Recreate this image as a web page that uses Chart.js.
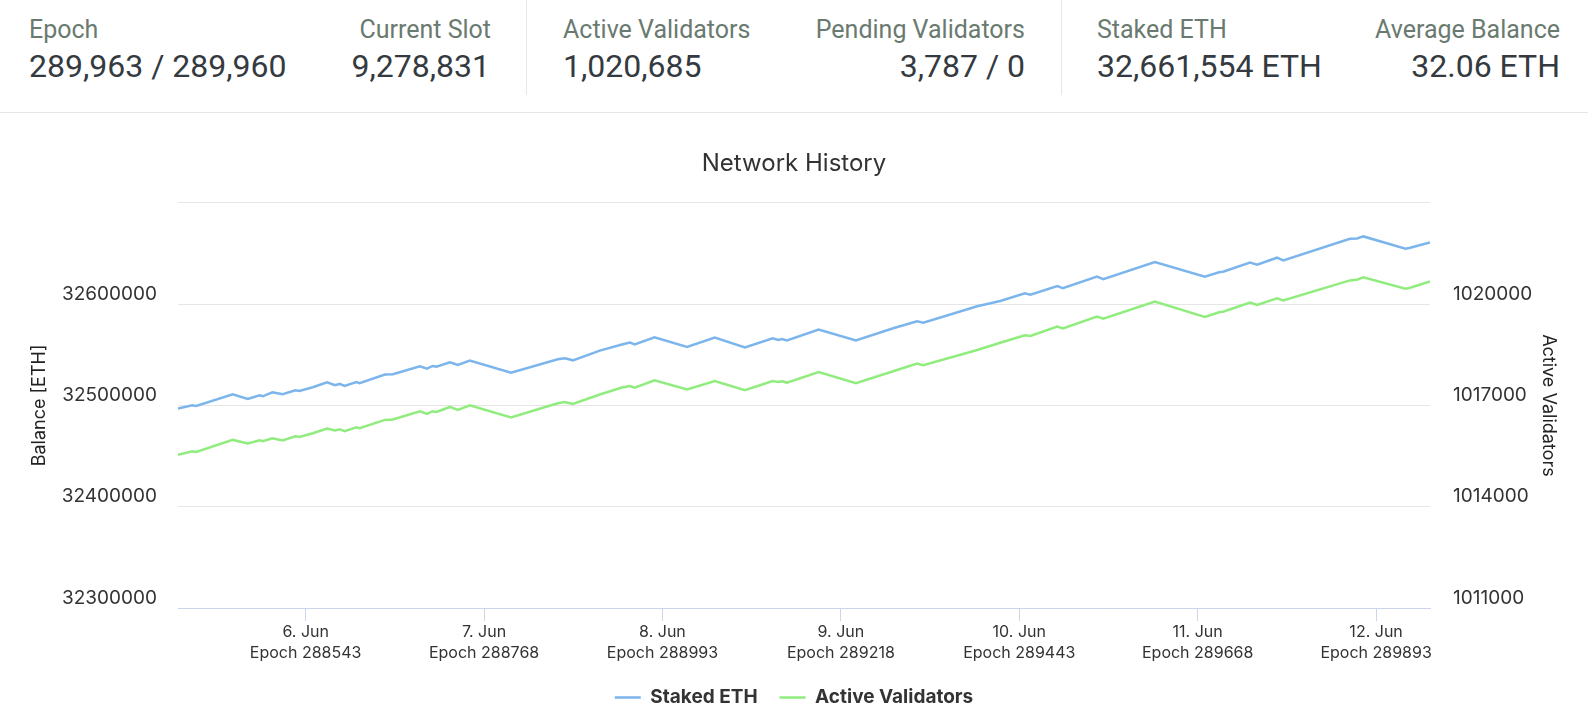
<!DOCTYPE html>
<html>
<head>
<meta charset="utf-8">
<script src="https://cdn.jsdelivr.net/npm/chart.js@4.4.1/dist/chart.umd.min.js"></script>
<style>
  html, body { margin: 0; padding: 0; background: #fff; }
  body { width: 1588px; height: 717px; position: relative; overflow: hidden; font-family: Roboto, sans-serif; }
  .header { position: absolute; left: 0; top: 0; width: 1588px; height: 112px; border-bottom: 1px solid #e5e5e5; }
  .sep { position: absolute; top: 0; width: 1px; height: 95px; background: #e8e8e8; }
  .lbl, .val { position: absolute; white-space: nowrap; line-height: 1; }
  .lbl { top: 17px; font-size: 25px; color: #6a7a70; }
  .val { top: 50px; font-size: 32px; color: #343a40; }
  #chart { position: absolute; left: 0; top: 113px; }
</style>
</head>
<body>
<div class="header">
  <div class="lbl" style="left:29px">Epoch</div>
  <div class="val" style="left:29px">289,963 / 289,960</div>
  <div class="lbl" style="right:1097px">Current Slot</div>
  <div class="val" style="right:1098px">9,278,831</div>
  <div class="sep" style="left:526px"></div>
  <div class="lbl" style="left:563px">Active Validators</div>
  <div class="val" style="left:563px">1,020,685</div>
  <div class="lbl" style="right:563px">Pending Validators</div>
  <div class="val" style="right:563px">3,787 / 0</div>
  <div class="sep" style="left:1061px"></div>
  <div class="lbl" style="left:1097px">Staked ETH</div>
  <div class="val" style="left:1097px">32,661,554 ETH</div>
  <div class="lbl" style="right:28px">Average Balance</div>
  <div class="val" style="right:28px">32.06 ETH</div>
</div>
<canvas id="chart" width="1588" height="604"></canvas>
<script>
const epochs = [
  288382, 288400, 288405, 288451, 288470, 288485, 288489, 288501, 288514, 288530,
  288535, 288552, 288570, 288580, 288586, 288592, 288607, 288611, 288643, 288653,
  288687, 288696, 288703, 288708, 288725, 288735, 288750, 288802, 288861, 288870,
  288880, 288914, 288943, 288952, 288958, 288983, 289024, 289059, 289097, 289132,
  289139, 289144, 289150, 289190, 289237, 289284, 289314, 289322, 289390, 289419,
  289450, 289457, 289491, 289498, 289541, 289549, 289614, 289677, 289696, 289700,
  289734, 289743, 289768, 289776, 289860, 289869, 289877, 289930, 289936, 289961
];

const stakedEth = [
  32496900, 32500200, 32499500, 32511000, 32506400, 32510000, 32509000, 32513000, 32511000, 32514900,
  32514300, 32517900, 32522800, 32519900, 32521200, 32519200, 32523100, 32521900, 32530400, 32530700,
  32538600, 32536300, 32538900, 32538300, 32542600, 32539900, 32544200, 32532400, 32545500, 32546500,
  32544500, 32554100, 32560300, 32562000, 32560300, 32567200, 32557600, 32566900, 32557300, 32566200,
  32564500, 32565500, 32564200, 32574800, 32564200, 32576100, 32583000, 32581700, 32597800, 32603000,
  32610600, 32609300, 32617800, 32615800, 32627100, 32624700, 32641500, 32627100, 32631600, 32632000,
  32640900, 32638900, 32645800, 32643100, 32664500, 32664800, 32666800, 32654700, 32655700, 32660900
];

const activeValidators = [
  1015541, 1015644, 1015623, 1015978, 1015872, 1015969, 1015940, 1016029, 1015961, 1016088,
  1016067, 1016177, 1016315, 1016256, 1016295, 1016236, 1016354, 1016324, 1016570, 1016582,
  1016827, 1016747, 1016827, 1016806, 1016954, 1016866, 1017005, 1016641, 1017064, 1017102,
  1017043, 1017321, 1017537, 1017576, 1017528, 1017744, 1017469, 1017723, 1017448, 1017723,
  1017694, 1017715, 1017676, 1017990, 1017655, 1018010, 1018238, 1018188, 1018641, 1018856,
  1019075, 1019055, 1019333, 1019282, 1019629, 1019569, 1020072, 1019617, 1019765, 1019776,
  1020043, 1019972, 1020170, 1020111, 1020702, 1020723, 1020791, 1020457, 1020486, 1020673
];

// x axis ticks: one per day
const epochTicks = [288543, 288768, 288993, 289218, 289443, 289668, 289893];
const dayLabels = ['6. Jun', '7. Jun', '8. Jun', '9. Jun', '10. Jun', '11. Jun', '12. Jun'];

const balanceMin = 32300000, balanceMax = 32700000, balanceStep = 100000;
const validatorMin = 1011000, validatorMax = 1023000, validatorStep = 3000;

const tickFont = { family: 'Inter', size: 19 };
const axisTitleFont = { family: 'Inter', size: 18, lineHeight: 1.2 };

const ctx = document.getElementById('chart').getContext('2d');
const chart = new Chart(ctx, {
  type: 'line',
  data: {
    datasets: [{
      label: 'Staked ETH',
      data: epochs.map((e, i) => ({ x: e, y: stakedEth[i] })),
      borderColor: '#7cb5ec',
      backgroundColor: '#7cb5ec',
      borderWidth: 2.5,
      yAxisID: 'y'
    }, {
      label: 'Active Validators',
      data: epochs.map((e, i) => ({ x: e, y: activeValidators[i] })),
      borderColor: '#90ed7d',
      backgroundColor: '#90ed7d',
      borderWidth: 2.5,
      yAxisID: 'y1'
    }]
  },
  options: {
    responsive: false,
    animation: false,
    layout: { padding: 0 },
    elements: {
      point: { radius: 0 },
      line: { tension: 0 }
    },
    plugins: {
      tooltip: { enabled: false },
      title: {
        display: true,
        text: 'Network History',
        color: '#333',
        font: { family: 'Inter', size: 24, weight: 'normal', lineHeight: 1.2 },
        padding: { top: 36, bottom: 25 }
      },
      legend: {
        position: 'bottom',
        labels: {
          usePointStyle: true,
          pointStyle: 'line',
          pointStyleWidth: 26,
          padding: 22,
          color: '#333',
          font: { family: 'Inter', size: 19, weight: 'bold' }
        }
      }
    },
    scales: {
      x: {
        type: 'linear',
        min: epochs[0],
        max: epochs[epochs.length - 1],
        afterBuildTicks: scale => { scale.ticks = epochTicks.map(v => ({ value: v })); },
        afterFit: scale => { scale.height = 58; },
        grid: { drawOnChartArea: false, drawTicks: true, tickLength: 13, color: '#ccd6eb' },
        border: { color: '#ccd6eb', width: 1 },
        ticks: {
          autoSkip: false,
          maxRotation: 0,
          padding: 1,
          color: '#333',
          font: { family: 'Inter', size: 16, lineHeight: 1.3 },
          callback: (value, index) => [dayLabels[index], 'Epoch ' + value]
        }
      },
      y: {
        position: 'left',
        min: balanceMin,
        max: balanceMax,
        afterFit: scale => { scale.width = 178; },
        grid: { color: '#e6e6e6', drawTicks: false },
        border: { display: false },
        ticks: {
          stepSize: balanceStep,
          padding: 21,
          labelOffset: -10,
          color: '#333',
          font: tickFont,
          callback: v => v === balanceMax ? '' : String(v)
        },
        title: {
          display: true,
          text: 'Balance [ETH]',
          color: '#222',
          font: axisTitleFont,
          padding: { top: 29, bottom: 0 }
        }
      },
      y1: {
        position: 'right',
        min: validatorMin,
        max: validatorMax,
        afterFit: scale => { scale.width = 158; },
        grid: { drawOnChartArea: false, drawTicks: false },
        border: { display: false },
        ticks: {
          stepSize: validatorStep,
          padding: 23,
          labelOffset: -10,
          color: '#333',
          font: tickFont,
          callback: v => v === validatorMax ? '' : String(v)
        },
        title: {
          display: true,
          text: 'Active Validators',
          color: '#222',
          font: axisTitleFont,
          padding: { top: 29, bottom: 0 }
        }
      }
    }
  }
});
</script>
</body>
</html>
